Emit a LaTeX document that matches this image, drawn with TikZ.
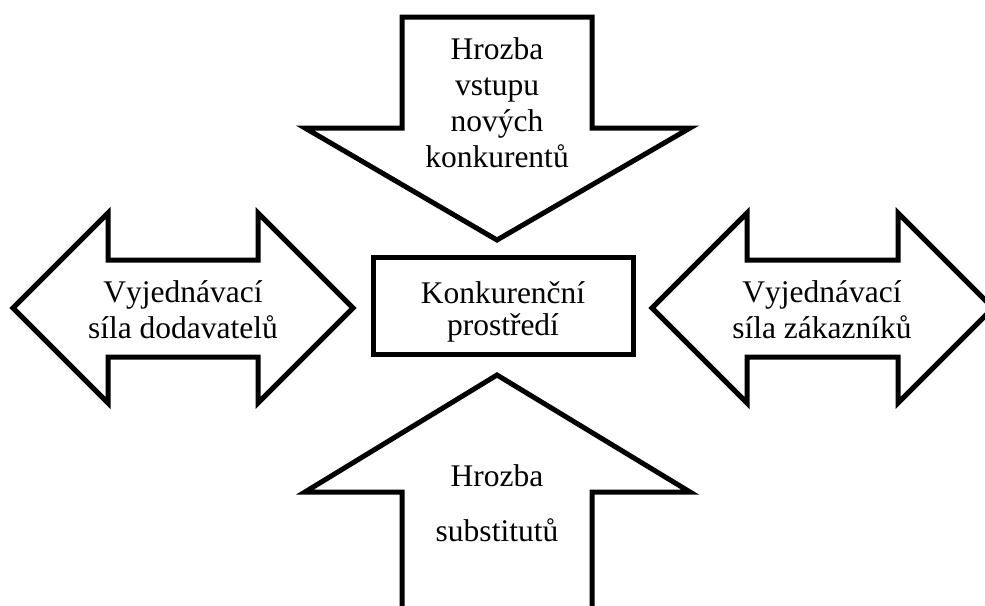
\documentclass[tikz,border=0pt]{standalone}
\usepackage{fontspec}
\setmainfont[Kerning=Off]{Liberation Serif}
\begin{document}
\begin{tikzpicture}[x=1pt,y=-1pt,
  shapeline/.style={draw=black,line width=5pt,line join=miter,fill=white},
  lbl/.style={anchor=base,inner sep=0pt,font=\fontsize{31.5}{36}\selectfont}]
\useasboundingbox (0,0) rectangle (985,605);
\clip (0,0) rectangle (985,605);
% top arrow
\draw[shapeline] (402,17) -- (592,17) -- (592,128) -- (690,128) -- (497,240)
  -- (305,128) -- (402,128) -- cycle;
% left double arrow
\draw[shapeline] (13,308) -- (108,213) -- (108,260) -- (258,260) -- (258,213)
  -- (353,308) -- (258,403) -- (258,357) -- (108,357) -- (108,403) -- cycle;
% right double arrow
\draw[shapeline] (652,308) -- (747,213) -- (747,260) -- (898,260) -- (898,213)
  -- (993,308) -- (898,403) -- (898,357) -- (747,357) -- (747,403) -- cycle;
% centre box
\draw[shapeline] (373,257) rectangle (633,354);
% bottom arrow
\draw[shapeline] (497,375) -- (690,492) -- (592,492) -- (592,620) -- (402,620)
  -- (402,492) -- (305,492) -- cycle;
% texts
\node[lbl] (t1) at (497,59) {Hrozba};
\node[lbl] (t2) at (497,95) {vstupu};
\node[lbl] (t3) at (497,131) {nových};
\node[lbl] (t4) at (497,167) {konkurentů};
\node[lbl] (l1) at (183,302) {Vyjednávací};
\node[lbl] (l2) at (183,338) {síla dodavatelů};
\node[lbl] (r1) at (822,302) {Vyjednávací};
\node[lbl] (r2) at (822,338) {síla zákazníků};
\node[lbl] (c1) at (503,303) {Konkurenční};
\node[lbl] (c2) at (503,335) {prostředí};
\node[lbl] (b1) at (497,486) {Hrozba};
\node[lbl] (b2) at (497,541) {substitutů};
\end{tikzpicture}
\end{document}
